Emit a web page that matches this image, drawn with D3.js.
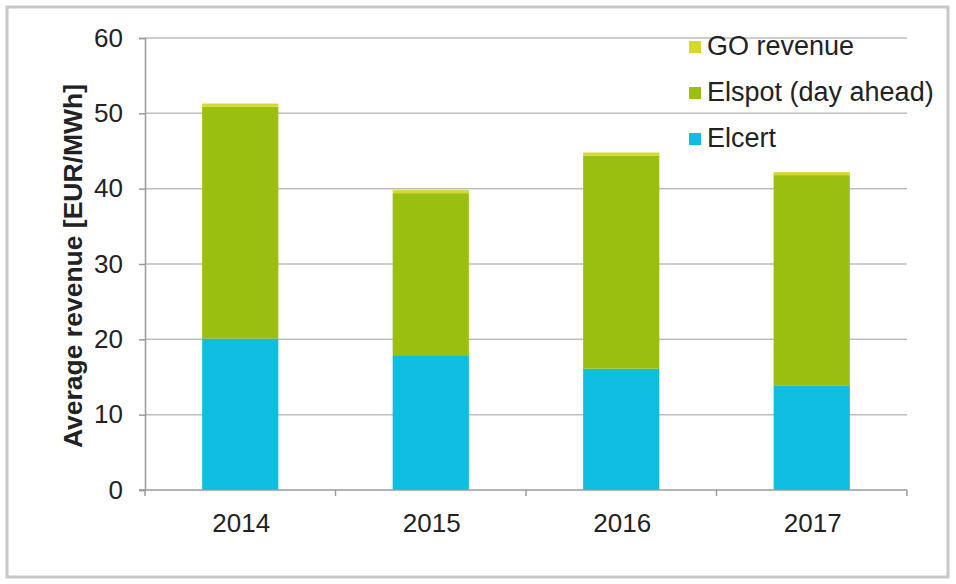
<!DOCTYPE html>
<html>
<head>
<meta charset="utf-8">
<script src="https://cdn.jsdelivr.net/npm/d3@7"></script>
<style>
  html, body { margin: 0; padding: 0; background: #fff; }
  svg { display: block; }
  text { font-family: "Liberation Sans", Arial, sans-serif; fill: #222; }
</style>
</head>
<body>
<svg id="chart" width="956" height="584"></svg>
<script>
// Average revenue per MWh, split by source
const years = ["2014", "2015", "2016", "2017"];
const elcert = [20.1, 17.9, 16.1, 13.9];
const elspot = [30.8, 21.5, 28.3, 27.9];
const goRevenue = [0.4, 0.4, 0.4, 0.4];
const yTicks = [0, 10, 20, 30, 40, 50, 60];

const seriesNames = ["Elcert", "Elspot (day ahead)", "GO revenue"];
const seriesColors = ["#0fbde0", "#9bbf10", "#d6d82e"];

const rows = years.map((y, i) => ({
  year: y,
  "Elcert": elcert[i],
  "Elspot (day ahead)": elspot[i],
  "GO revenue": goRevenue[i]
}));

const svg = d3.select("#chart");

// outer frame
svg.append("rect")
  .attr("x", 7).attr("y", 7).attr("width", 941).attr("height", 570)
  .attr("fill", "#fff").attr("stroke", "#c8c8c8").attr("stroke-width", 3);

const plot = { left: 145, right: 907, top: 38, bottom: 490 };

const x = d3.scaleBand().domain(years).range([plot.left, plot.right]).paddingInner(0.6).paddingOuter(0.3);
const xOuter = d3.scaleBand().domain(years).range([plot.left, plot.right]);
const y = d3.scaleLinear().domain([0, 60]).range([plot.bottom, plot.top]);

// horizontal gridlines
svg.append("g").selectAll("line")
  .data(yTicks.filter(t => t > 0))
  .join("line")
  .attr("x1", plot.left).attr("x2", plot.right)
  .attr("y1", d => y(d)).attr("y2", d => y(d))
  .attr("stroke", "#bdbdbd").attr("stroke-width", 1.5);

// stacked bars
const stack = d3.stack().keys(seriesNames)(rows);
svg.append("g").selectAll("g")
  .data(stack)
  .join("g")
  .attr("fill", (d, i) => seriesColors[i])
  .selectAll("rect")
  .data(d => d)
  .join("rect")
  .attr("x", d => x(d.data.year))
  .attr("width", x.bandwidth())
  .attr("y", d => y(d[1]))
  .attr("height", d => y(d[0]) - y(d[1]));

// y axis
const yAxis = svg.append("g")
  .attr("transform", `translate(${plot.left},0)`)
  .call(d3.axisLeft(y).tickValues(yTicks).tickSize(6).tickPadding(16));
yAxis.select(".domain").attr("stroke", "#9a9a9a").attr("stroke-width", 1.5);
yAxis.selectAll(".tick line").attr("stroke", "#9a9a9a").attr("stroke-width", 1.5);
yAxis.selectAll("text").attr("font-size", 26).attr("fill", "#222")
  .style("font-family", "'Liberation Sans', Arial, sans-serif");

// x axis with ticks at category boundaries
const xAxisG = svg.append("g").attr("transform", `translate(0,${plot.bottom})`);
xAxisG.append("line")
  .attr("x1", plot.left - 6).attr("x2", plot.right)
  .attr("stroke", "#9a9a9a").attr("stroke-width", 1.5);
const bounds = years.map(yr => xOuter(yr)).concat([plot.right]);
xAxisG.selectAll("line.tk")
  .data(bounds)
  .join("line")
  .attr("class", "tk")
  .attr("x1", d => d).attr("x2", d => d)
  .attr("y1", 0).attr("y2", 6)
  .attr("stroke", "#9a9a9a").attr("stroke-width", 1.5);
xAxisG.selectAll("text")
  .data(years)
  .join("text")
  .attr("x", d => xOuter(d) + xOuter.bandwidth() / 2 + 1)
  .attr("y", 42)
  .attr("text-anchor", "middle")
  .attr("font-size", 26)
  .text(d => d);

// y axis title
svg.append("text")
  .attr("transform", `translate(82,266) rotate(-90)`)
  .attr("text-anchor", "middle")
  .attr("font-size", 26.5)
  .attr("font-weight", "bold")
  .text("Average revenue [EUR/MWh]");

// legend (top entry is the top of the stack)
const legendItems = seriesNames.map((n, i) => ({ name: n, color: seriesColors[i] })).reverse();
const legend = svg.append("g").attr("transform", "translate(689,55)");
const lg = legend.selectAll("g")
  .data(legendItems)
  .join("g")
  .attr("transform", (d, i) => `translate(0,${i * 46})`);
lg.append("rect")
  .attr("x", 0).attr("y", -14).attr("width", 12).attr("height", 12)
  .attr("fill", d => d.color);
lg.append("text")
  .attr("x", 18).attr("y", 0)
  .attr("font-size", 27)
  .text(d => d.name);
</script>
</body>
</html>
